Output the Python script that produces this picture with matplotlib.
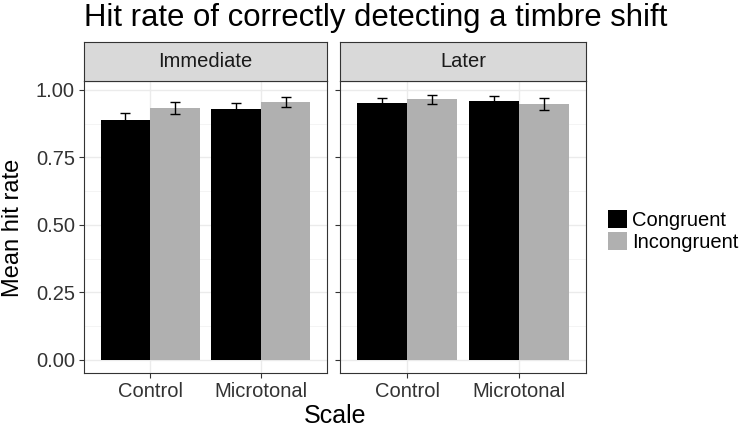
import matplotlib
matplotlib.use("Agg")
import matplotlib.pyplot as plt
import numpy as np

plt.rcParams['font.family'] = ['Liberation Sans', 'DejaVu Sans']

panels = ["Immediate", "Later"]
scales = ["Control", "Microtonal"]
conditions = ["Congruent", "Incongruent"]
colors = ["#000000", "#B0B0B0"]

# mean hit rate [panel][condition][scale]
means = {
    "Immediate": {"Congruent": [0.888, 0.930], "Incongruent": [0.933, 0.954]},
    "Later": {"Congruent": [0.951, 0.960], "Incongruent": [0.965, 0.948]},
}
errs = {
    "Immediate": {"Congruent": [0.028, 0.022], "Incongruent": [0.022, 0.018]},
    "Later": {"Congruent": [0.018, 0.019], "Incongruent": [0.017, 0.021]},
}

W, H = 740, 433
fig = plt.figure(figsize=(W / 100, H / 100), dpi=100)

panel_x = [(84, 327), (340, 586)]
top_strip, top_plot, bottom_plot = 42, 81, 373

ymin, ymax = -0.049, 1.033
bar_handles = None
for i, p in enumerate(panels):
    x0, x1 = panel_x[i]
    ax = fig.add_axes([x0 / W, 1 - bottom_plot / H, (x1 - x0) / W, (bottom_plot - top_plot) / H])
    sax = fig.add_axes([x0 / W, 1 - top_plot / H, (x1 - x0) / W, (top_plot - top_strip) / H])
    sax.set_facecolor("#D9D9D9")
    sax.set_xticks([]); sax.set_yticks([])
    for s in sax.spines.values():
        s.set_color("#333333"); s.set_linewidth(0.8)
    sax.text(0.5, 0.5, p, ha="center", va="center", fontsize=14.5, color="#1A1A1A", transform=sax.transAxes)

    xs = np.arange(1, len(scales) + 1)
    bw = 0.45
    hs = []
    for j, c in enumerate(conditions):
        pos = xs + (j - 0.5) * bw
        b = ax.bar(pos, means[p][c], width=bw, color=colors[j], zorder=3, label=c)
        hs.append(b)
        ax.errorbar(pos, means[p][c], yerr=errs[p][c], fmt="none", ecolor="black",
                    elinewidth=1.0, capsize=3.6, capthick=1.0, zorder=4)
    ax.set_xlim(0.4, 2.6)
    ax.set_ylim(ymin, ymax)
    ax.set_yticks([0, 0.25, 0.5, 0.75, 1.0])
    ax.set_yticks([0.125, 0.375, 0.625, 0.875], minor=True)
    ax.set_xticks(xs)
    ax.set_xticklabels(scales, fontsize=14.5, color="#333333")
    ax.grid(True, which="major", color="#EBEBEB", linewidth=1.0, zorder=0)
    ax.grid(True, which="minor", axis="y", color="#F2F2F2", linewidth=0.6, zorder=0)
    ax.tick_params(axis="both", which="major", length=3.6, width=0.8, pad=3,
                   color="#333333", labelcolor="#333333")
    ax.tick_params(axis="both", which="minor", length=0)
    for s in ax.spines.values():
        s.set_color("#333333"); s.set_linewidth(0.8)
    if i == 0:
        ax.set_yticklabels(["0.00", "0.25", "0.50", "0.75", "1.00"], fontsize=14.5)
        bar_handles = hs
    else:
        ax.set_yticklabels([])

fig.text(13 / W, 1 - 228 / H, "Mean hit rate", ha="center", va="center", rotation=90, fontsize=17)
fig.text(335 / W, 1 - 416 / H, "Scale", ha="center", va="center", fontsize=18)
fig.text(84 / W, 1 - 18 / H, "Hit rate of correctly detecting a timbre shift", ha="left", va="center", fontsize=22.4)

fig.legend(bar_handles, conditions, loc="center left", bbox_to_anchor=(608 / W, 1 - 231 / H),
           frameon=False, fontsize=14.5, handlelength=0.95, handleheight=0.95, handletextpad=0.25,
           borderaxespad=0, borderpad=0, labelspacing=0.12)

fig.savefig("out.png", dpi=100)
